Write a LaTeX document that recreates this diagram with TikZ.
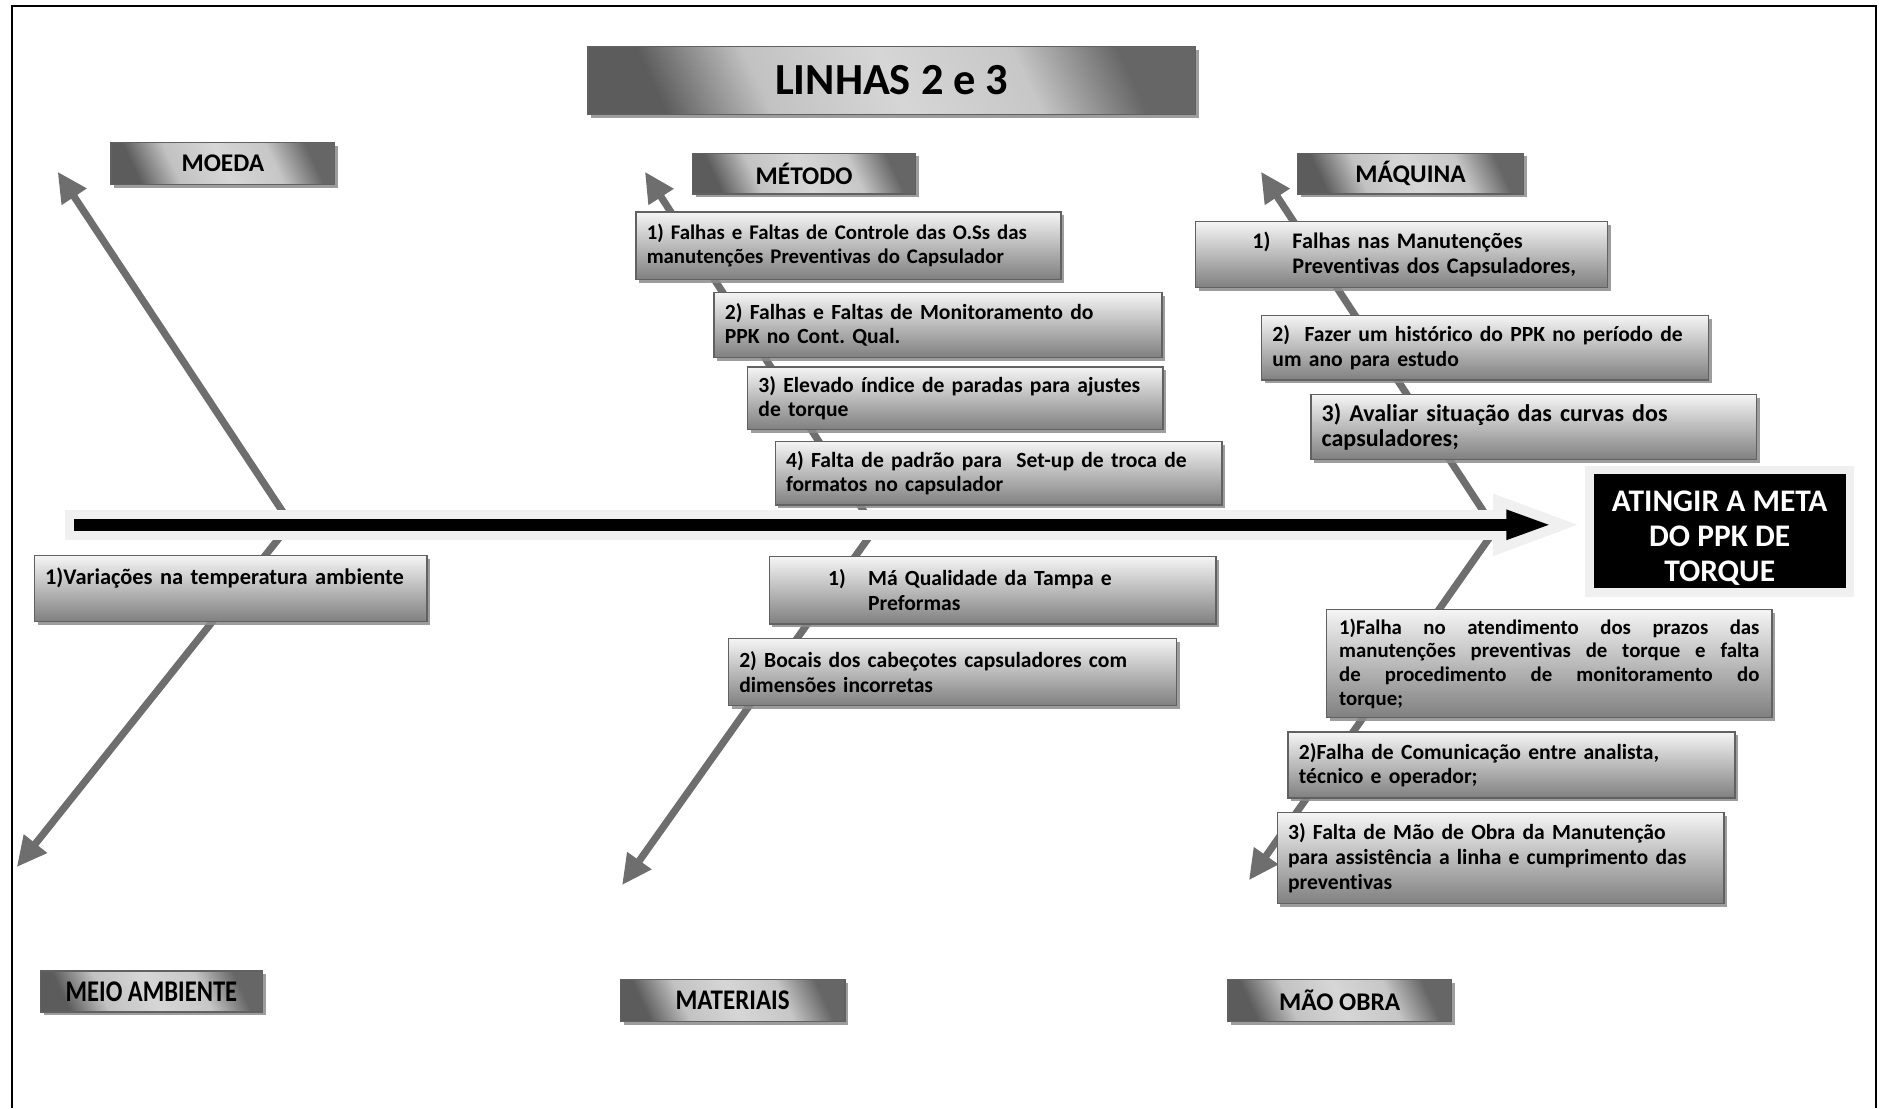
\documentclass[tikz,border=0pt]{standalone}
\usepackage{fontspec}
\setmainfont{Carlito}[Ligatures=NoCommon]
\usetikzlibrary{arrows.meta,shadows}
\frenchspacing

% dark - light - dark band used on the header plates
\pgfdeclarehorizontalshading{plateshade}{100bp}{%
  color(0bp)=(black!64); color(25bp)=(black!64); color(36bp)=(black!24);
  color(50bp)=(black!16); color(64bp)=(black!22); color(75bp)=(black!60); color(100bp)=(black!60)}

\tikzset{
  boxshadow/.style={drop shadow={shadow xshift=1.6pt, shadow yshift=-1.6pt, fill=black!45, opacity=0.85}},
  causebox/.style={boxshadow, draw=black!62, line width=0.7pt, top color=black!4, bottom color=black!50,
    inner xsep=5.4pt, inner ysep=0pt, align=left, anchor=north west, text=black,
    font=\fontsize{10.8}{12.3}\selectfont\bfseries},
  headbox/.style={boxshadow, draw=black!62, line width=0.7pt, shading=plateshade, shading angle=25,
    inner sep=0pt, anchor=north west, text=black, font=\fontsize{12.7}{14}\selectfont\bfseries},
  bone/.style={draw=black!57, line width=3.6pt, -{Triangle[length=15pt,width=14pt]}},
  spineglow/.style={draw=black!6, line width=15pt, -{Triangle[length=46pt,width=27pt]}},
  spinebar/.style={draw=black, line width=6pt, -{Triangle[length=23.4pt,width=13.2pt]}},
  goalbox/.style={boxshadow, fill=black, draw=black!6, line width=4.2pt},
  goaltext/.style={text=white, align=center, font=\fontsize{15.7}{17.4}\selectfont\bfseries},
}

\begin{document}
\begin{tikzpicture}[x=0.6pt,y=-0.6pt]
\useasboundingbox (0,0) rectangle (1568,923);

% page frame, open at the bottom
\draw[line width=1.2pt] (10,923) -- (10,5) -- (1562,5) -- (1562,923);

% effect box
\node[goalbox, minimum width=130.2pt, minimum height=61.2pt] (goal) at (1432,442.5) {};
\node[goaltext] (goaltxt) at (1432,448) {ATINGIR A META\\DO PPK DE\\TORQUE};

% roots and tips of the category bones
\coordinate (moedaR) at (240,433);   \coordinate (moedaT) at (48,143);
\coordinate (meioR) at (238,441);    \coordinate (meioT) at (14,722);
\coordinate (metodoR) at (724,433);  \coordinate (metodoT) at (537,143);
\coordinate (matR) at (728,441);     \coordinate (matT) at (518,737);
\coordinate (maqR) at (1240,433);    \coordinate (maqT) at (1050,143);
\coordinate (maoR) at (1245,441);    \coordinate (maoT) at (1040,733);

\draw[bone] (moedaR) -- (moedaT);
\draw[bone] (meioR) -- (meioT);
\draw[bone] (metodoR) -- (metodoT);
\draw[bone] (matR) -- (matT);
\draw[bone] (maqR) -- (maqT);
\draw[bone] (maoR) -- (maoT);

% spine
\coordinate (spineGlowL) at (54,437);
\coordinate (spineL) at (62,437);
\draw[spineglow] (spineGlowL) -- (goal.west |- spineL);
\draw[spinebar, shorten >=16pt] (spineL) -- (goal.west |- spineL);

% title and category headers
\node[headbox, minimum width=303.6pt, minimum height=34.2pt, font=\fontsize{22.2}{26}\selectfont\bfseries]
  (title) at (489,38) {LINHAS 2 e 3};
\node[headbox, minimum width=111.6pt, minimum height=21pt] (moeda) at (92,118) {MOEDA};
\node[headbox, minimum width=111.6pt, minimum height=20.4pt] (metodo) at (576,127) {MÉTODO};
\node[headbox, minimum width=112.8pt, minimum height=20.4pt] (maquina) at (1080,127) {MÁQUINA};
\node[headbox, minimum width=111pt, minimum height=20.4pt] (meio) at (33,808)
  {\scalebox{0.82}[1]{\fontsize{15}{17}\selectfont\bfseries MEIO AMBIENTE}};
\node[headbox, minimum width=112.2pt, minimum height=21pt] (materiais) at (516,815)
  {\scalebox{0.88}[1]{\fontsize{14.2}{16}\selectfont\bfseries MATERIAIS}};
\node[headbox, minimum width=111.6pt, minimum height=21pt] (maoobra) at (1022,815) {MÃO OBRA};

% causes: method
\node[causebox, minimum width=212.4pt, minimum height=33.6pt, text width=201.6pt,
  font=\fontsize{10.4}{12.3}\selectfont\bfseries] (m1) at (529,176)
  {\mbox{1) Falhas e Faltas de Controle das O.Ss das}\\\mbox{manutenções Preventivas do Capsulador}};
\node[causebox, minimum width=223.8pt, minimum height=32.4pt, text width=213pt] (m2) at (594,243)
  {\mbox{2) Falhas e Faltas de Monitoramento do}\\\mbox{PPK no Cont. Qual.}};
\node[causebox, minimum width=207.6pt, minimum height=31.2pt, text width=196.8pt] (m3) at (622,305)
  {\mbox{3) Elevado índice de paradas para ajustes}\\\mbox{de torque}};
\node[causebox, minimum width=223.2pt, minimum height=31.8pt, text width=212.4pt] (m4) at (645,367)
  {\mbox{4) Falta de padrão para\ \ Set-up de troca de}\\\mbox{formatos no capsulador}};

% causes: machine
\node[causebox, minimum width=205.8pt, minimum height=33pt, text width=195pt,
  font=\fontsize{11.1}{12.3}\selectfont\bfseries] (q1) at (995,184)
  {\mbox{\hspace*{23pt}\makebox[20pt][l]{1)}Falhas nas Manutenções}\\\mbox{\hspace*{43pt}Preventivas dos Capsuladores,}};
\node[causebox, minimum width=223.2pt, minimum height=32.4pt, text width=212.4pt] (q2) at (1050,262)
  {\mbox{2)\ \ Fazer um histórico do PPK no período de}\\\mbox{um ano para estudo}};
\node[causebox, minimum width=222.6pt, minimum height=32.4pt, text width=211.8pt,
  font=\fontsize{12}{12.8}\selectfont\bfseries] (q3) at (1091,328)
  {\mbox{3) Avaliar situação das curvas dos}\\\mbox{capsuladores;}};

% causes: environment
\node[causebox, minimum width=196.2pt, minimum height=33pt, text width=185.4pt,
  font=\fontsize{11.2}{12.3}\selectfont\bfseries] (e1) at (28,462)
  {\mbox{1)Variações na temperatura ambiente}\\\mbox{}};

% causes: materials
\node[causebox, minimum width=223.2pt, minimum height=33.6pt, text width=212.4pt] (t1) at (640,463)
  {\mbox{\hspace*{24pt}\makebox[20pt][l]{1)}Má Qualidade da Tampa e}\\\mbox{\hspace*{44pt}Preformas}};
\node[causebox, minimum width=223.8pt, minimum height=33.6pt, text width=213pt] (t2) at (606,531)
  {\mbox{2) Bocais dos cabeçotes capsuladores com}\\\mbox{dimensões incorretas}};

% causes: labour
\node[causebox, minimum width=222.6pt, minimum height=54pt, text width=210pt, inner xsep=6.3pt,
  align=justify, font=\fontsize{10.4}{11.8}\selectfont\bfseries] (o1) at (1104,507)
  {1)Falha no atendimento dos prazos das\linebreak manutenções preventivas de torque e falta\linebreak
   de procedimento de monitoramento do\linebreak torque;};
\node[causebox, minimum width=223.2pt, minimum height=33pt, text width=212.4pt] (o2) at (1072,609)
  {\mbox{2)Falha de Comunicação entre analista,}\\\mbox{técnico e operador;}};
\node[causebox, minimum width=223.2pt, minimum height=45.6pt, text width=212.4pt] (o3) at (1063,676)
  {\mbox{3) Falta de Mão de Obra da Manutenção}\\\mbox{para assistência a linha e cumprimento das}\\\mbox{preventivas}};
\end{tikzpicture}
\end{document}
